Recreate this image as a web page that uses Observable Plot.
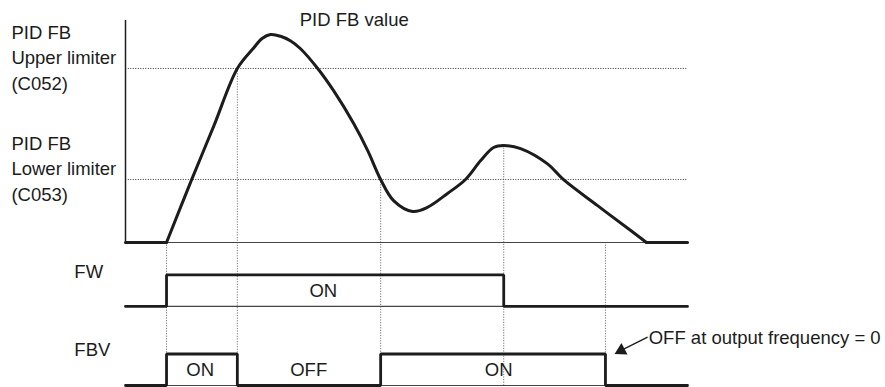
<!DOCTYPE html>
<html>
<head>
<meta charset="utf-8">
<script src="https://cdn.jsdelivr.net/npm/d3@7"></script>
<script src="https://cdn.jsdelivr.net/npm/@observablehq/plot@0.6"></script>
<style>
  body { margin: 0; background: #fff; }
  #chart svg { display: block; }
</style>
</head>
<body>
<div id="chart"></div>
<script>
// PID feedback value over time (time 0–100, value in % of full scale)
const fbTime  = [7.3, 11.7, 15.7, 19.9, 22.8, 24.3, 25.8, 27.6, 29.4, 31.1, 34.2, 37.0, 40.6, 43.1, 45.4, 47.7, 51.1, 53.7, 57.3, 60.5, 63.2, 65.5, 67.3, 70.3, 75.1, 77.9, 84.0, 89.9, 92.7];
const fbValue = [0, 27.9, 52.4, 78.4, 87.6, 91.9, 93.7, 92.9, 90.8, 87.4, 78.4, 68.5, 53.6, 41.4, 28.4, 18.9, 14.0, 15.8, 22.1, 28.4, 36.9, 42.8, 43.7, 42.3, 35.4, 28.4, 16.6, 5.4, 0];

// Limiter settings
const upperLimit = 78.4; // C052
const lowerLimit = 28.4; // C053

// Switching instants and the FB value where each guide starts
const eventTime = [7.3, 19.9, 45.4, 67.3, 85.4];
const eventTop  = [0, 78.4, 28.4, 43.7, 0];

// FW (forward run) signal: state changes
const fwTime  = [0, 7.3, 67.3, 100];
const fwState = [0, 1, 0, 0];

// FBV output signal: state changes
const fbvTime  = [0, 7.3, 19.9, 45.4, 85.4, 100];
const fbvState = [0, 1, 0, 1, 0, 0];

// State labels inside the signal lanes
const fwLabels  = [{t: 35.2, text: "ON"}];
const fbvLabels = [{t: 13.3, text: "ON"}, {t: 32.6, text: "OFF"}, {t: 66.4, text: "ON"}];

// Lane layout, in the same vertical units as the FB value
const laneH = 14.2;
const fwBase = -28.8;
const fbvBase = -64.4;

const ink = "#1c1c1c";
const font = 18.5;

// Curve table: flat start, the analogue curve, flat tail
const fbRows = [
  {t: 0, v: 0, seg: "a"}, {t: fbTime[0], v: 0, seg: "a"},
  ...fbTime.map((t, i) => ({t, v: fbValue[i], seg: "b"})),
  {t: fbTime[fbTime.length - 1], v: 0, seg: "c"}, {t: 100, v: 0, seg: "c"}
];
const guides = eventTime.map((t, i) => ({t, top: eventTop[i]}));
const fwRows = fwTime.map((t, i) => ({t, y: fwBase + fwState[i] * laneH}));
const fbvRows = fbvTime.map((t, i) => ({t, y: fbvBase + fbvState[i] * laneH}));

const arrow = {from: {t: 92.9, v: -42.6}, head: {t: 88.2, v: -48.6}};

const chart = Plot.plot({
  width: 885,
  height: 387,
  marginLeft: 125,
  marginRight: 198,
  marginTop: 20,
  marginBottom: 0,
  x: {domain: [0, 100], axis: null},
  y: {domain: [-65.3, 100], axis: null},
  style: {fontFamily: "'Liberation Sans', Arial, Helvetica, sans-serif", background: "#fff"},
  marks: [
    // vertical guides at each switching instant
    Plot.ruleX(guides, {x: "t", y1: "top", y2: () => fbvBase, stroke: "#555", strokeWidth: 0.8, strokeDasharray: "1.2,1.4"}),
    // limiter levels
    Plot.ruleY([upperLimit, lowerLimit], {x1: 0.5, x2: 100, stroke: "#333", strokeWidth: 1, strokeDasharray: "1,1.5"}),
    // value axis and time baselines
    Plot.ruleX([0], {y1: 0, y2: 100, stroke: ink, strokeWidth: 1.5}),
    Plot.ruleY([0, fwBase, fbvBase], {x1: 0, x2: 100, stroke: "#444", strokeWidth: 1.2}),
    // PID FB value
    Plot.line(fbRows, {x: "t", y: "v", z: "seg", curve: "catmull-rom", stroke: ink, strokeWidth: 3, strokeLinecap: "round", strokeLinejoin: "round"}),
    // digital signals
    Plot.line(fwRows, {x: "t", y: "y", curve: "step-after", stroke: ink, strokeWidth: 2.8, strokeLinejoin: "miter"}),
    Plot.line(fbvRows, {x: "t", y: "y", curve: "step-after", stroke: ink, strokeWidth: 2.8, strokeLinejoin: "miter"}),
    // lane state labels
    Plot.text(fwLabels, {x: "t", y: () => fwBase + laneH / 2, text: "text", fontSize: font, fill: ink, lineAnchor: "middle"}),
    Plot.text(fbvLabels, {x: "t", y: () => fbvBase + laneH / 2, text: "text", fontSize: font, fill: ink, lineAnchor: "middle"}),
    // signal names
    Plot.text(["FW"], {x: -9.1, y: fwBase + laneH - 1.6, text: d => d, textAnchor: "start", lineAnchor: "bottom", fontSize: font, fill: ink}),
    Plot.text(["FBV"], {x: -9.1, y: fbvBase + laneH - 0.9, text: d => d, textAnchor: "start", lineAnchor: "bottom", fontSize: font, fill: ink}),
    // limiter names
    Plot.text(["PID FB\nUpper limiter\n(C052)"], {x: -20.3, y: 68.9, text: d => d, textAnchor: "start", lineAnchor: "bottom", lineHeight: 1.38, fontSize: font, fill: ink}),
    Plot.text(["PID FB\nLower limiter\n(C053)"], {x: -20.3, y: 18.9, text: d => d, textAnchor: "start", lineAnchor: "bottom", lineHeight: 1.38, fontSize: font, fill: ink}),
    // curve title
    Plot.text(["PID FB value"], {x: 40.7, y: 97.7, text: d => d, textAnchor: "middle", lineAnchor: "bottom", fontSize: font, fill: ink}),
    // annotation for the FBV turn-off
    Plot.link([arrow], {x1: d => d.from.t, y1: d => d.from.v, x2: d => d.head.t, y2: d => d.head.v, stroke: ink, strokeWidth: 1.3}),
    Plot.dot([arrow], {x: d => d.head.t, y: d => d.head.v, symbol: "triangle", r: 4.8, fill: ink, stroke: "none", rotate: 242}),
    Plot.text(["OFF at output frequency = 0"], {x: 93.1, y: -45.9, text: d => d, textAnchor: "start", lineAnchor: "bottom", fontSize: font, fill: ink})
  ]
});

document.getElementById("chart").appendChild(chart);
</script>
</body>
</html>
